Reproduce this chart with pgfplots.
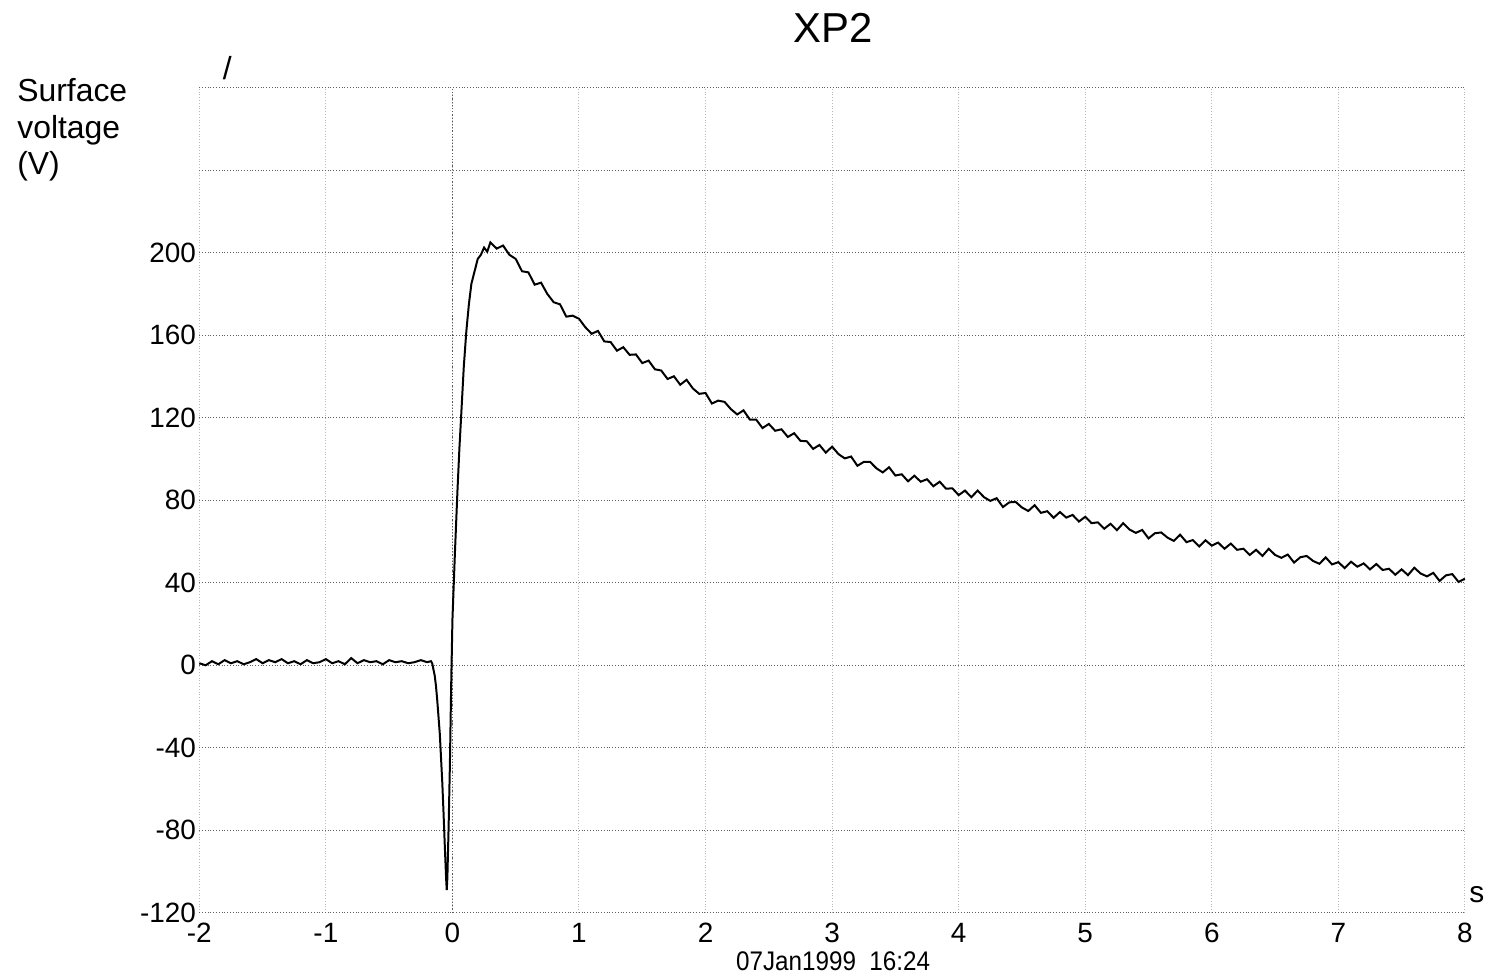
\documentclass[border=0pt]{standalone}
\usepackage{fontspec}
\setmainfont{Liberation Sans}
\newfontfamily\narrowfont[FakeStretch=0.9]{Liberation Sans}
\usepackage{pgfplots}
\pgfplotsset{compat=1.18}

\begin{document}
\begin{tikzpicture}
\begin{axis}[
    scale only axis,
    width=635pt,
    height=414pt,
    xmin=-2, xmax=8,
    ymin=-120, ymax=280,
    xtick={-2,-1,0,1,2,3,4,5,6,7,8},
    xticklabels={-2,-1,0,1,2,3,4,5,6,7,8},
    ytick={-120,-80,-40,0,40,80,120,160,200,240,280},
    yticklabels={-120,-80,-40,0,40,80,120,160,200,,},
    tick label style={font=\fontsize{14}{16}\selectfont},
    yticklabel style={inner sep=1.5pt},
    xticklabel style={inner sep=1pt, yshift=-3.5pt, text height=10pt, text depth=0pt},
    major tick length=0pt,
    axis line style={draw=none},
    grid=major,
    x grid style={gray!55, densely dotted, line width=0.5pt},
    y grid style={gray!75!black, densely dotted, line width=0.5pt},
    clip=false,
]

% darker zero-time marker
\addplot[gray!70!black, densely dotted, line width=0.6pt] coordinates {(0,-120) (0,280)};

% surface voltage trace
\addplot[black, line width=1pt] coordinates {
(-2.00,1.0) (-1.95,0.0) (-1.90,2.0) (-1.85,0.5) (-1.80,2.5) (-1.75,1.0)
(-1.70,2.0) (-1.65,0.5) (-1.60,1.5) (-1.55,3.0) (-1.50,1.0) (-1.45,2.5)
(-1.40,1.5) (-1.35,3.0) (-1.30,1.0) (-1.25,2.0) (-1.20,0.5) (-1.15,2.5)
(-1.10,1.0) (-1.05,1.5) (-1.00,3.0) (-0.95,1.0) (-0.90,2.0) (-0.85,0.5)
(-0.80,3.5) (-0.75,1.0) (-0.70,2.5) (-0.65,1.5) (-0.60,2.0) (-0.55,0.5)
(-0.50,2.5) (-0.45,1.5) (-0.40,2.0) (-0.35,1.0) (-0.30,1.5) (-0.25,2.5)
(-0.20,1.5) (-0.17,2.0)
(-0.16,1.0) (-0.15,-2.0) (-0.14,-5.0) (-0.13,-10.0) (-0.12,-17.0)
(-0.11,-25.0) (-0.10,-33.0) (-0.09,-45.0) (-0.08,-57.0) (-0.07,-72.0)
(-0.06,-88.0) (-0.05,-103.0) (-0.045,-109.0) (-0.04,-103.0) (-0.03,-78.0)
(-0.02,-48.0) (-0.01,-10.0) (0.00,22.0) (0.02,55.0) (0.04,85.0)
(0.055,105.0) (0.07,122.0) (0.09,145.0) (0.11,162.0) (0.13,175.0)
(0.15,185.0) (0.175,191.0) (0.20,197.0) (0.225,199.0) (0.25,202.5)
(0.275,200.5)
(0.30,205.0) (0.35,202.0) (0.40,203.5) (0.45,199.0) (0.50,197.0)
(0.55,191.0) (0.60,190.5) (0.65,184.5) (0.70,185.5) (0.75,180.0)
(0.80,176.0) (0.85,175.0) (0.90,169.0) (0.95,169.5) (1.00,168.0)
(1.05,163.9) (1.10,160.7) (1.15,162.1) (1.20,157.0) (1.25,156.7)
(1.30,152.5) (1.35,154.2) (1.40,150.5) (1.45,150.7) (1.50,146.5)
(1.55,147.7) (1.60,143.5) (1.65,142.9) (1.70,138.8) (1.75,140.1)
(1.80,136.0) (1.85,138.4) (1.90,134.2) (1.95,131.6) (2.00,132.0)
(2.05,126.9) (2.10,128.3) (2.15,127.7) (2.20,124.2) (2.25,121.6)
(2.30,123.6) (2.35,119.1) (2.40,119.1) (2.45,115.0) (2.50,117.0)
(2.55,113.7) (2.60,114.4) (2.65,110.7) (2.70,112.5) (2.75,108.8)
(2.80,108.6) (2.85,104.9) (2.90,106.8) (2.95,103.1) (3.00,106.0)
(3.05,102.4) (3.10,100.3) (3.15,101.2) (3.20,96.7) (3.25,98.6)
(3.30,98.6) (3.35,95.5) (3.40,93.5) (3.45,96.0) (3.50,92.0)
(3.55,92.6) (3.60,89.2) (3.65,91.9) (3.70,89.0) (3.75,90.2)
(3.80,86.8) (3.85,89.0) (3.90,85.6) (3.95,85.8) (4.00,82.5)
(4.05,84.7) (4.10,81.5) (4.15,84.7) (4.20,81.5) (4.25,79.7)
(4.30,81.0) (4.35,76.7) (4.40,79.0) (4.45,79.2) (4.50,76.5)
(4.55,74.8) (4.60,77.6) (4.65,73.9) (4.70,74.7) (4.75,71.5)
(4.80,74.3) (4.85,71.6) (4.90,72.9) (4.95,69.7) (5.00,72.0)
(5.05,68.9) (5.10,69.3) (5.15,66.2) (5.20,68.6) (5.25,65.5)
(5.30,68.9) (5.35,65.8) (5.40,64.2) (5.45,65.6) (5.50,61.5)
(5.55,64.0) (5.60,64.4) (5.65,61.9) (5.70,60.3) (5.75,63.3)
(5.80,59.7) (5.85,60.7) (5.90,57.6) (5.95,60.6) (6.00,58.0)
(6.05,59.5) (6.10,56.5) (6.15,59.0) (6.20,56.0) (6.25,56.5)
(6.30,53.5) (6.35,56.0) (6.40,53.0) (6.45,56.5) (6.50,53.5)
(6.55,52.1) (6.60,53.7) (6.65,49.8) (6.70,52.4) (6.75,53.0)
(6.80,50.6) (6.85,49.2) (6.90,52.3) (6.95,48.9) (7.00,50.0)
(7.05,47.1) (7.10,50.2) (7.15,47.8) (7.20,49.4) (7.25,46.5)
(7.30,49.1) (7.35,46.2) (7.40,46.8) (7.45,43.9) (7.50,46.5)
(7.55,43.7) (7.60,47.3) (7.65,44.5) (7.70,43.1) (7.75,44.8)
(7.80,40.9) (7.85,43.6) (7.90,44.2) (7.95,40.4) (8.00,42.0)
};
\end{axis}

% invisible frame that fixes the page size
\path (-100pt,-32pt) rectangle (645.5pt,458pt);

\node[font=\fontsize{21}{24}\selectfont] at (318pt,444pt) {XP2};
\node[anchor=north west, align=left, inner sep=0pt,
      font=\fontsize{16}{18.5}\selectfont] at (-91.5pt,419pt)
      {Surface\\voltage\\(V)};
\node[font=\fontsize{16}{18}\selectfont] at (14pt,424pt) {/};
\node[font=\fontsize{15}{17}\selectfont] at (641pt,9pt) {s};
\node[anchor=base, inner sep=0pt, text height=10pt, text depth=0pt,
      font=\narrowfont\fontsize{13.5}{16}\selectfont]
      at (318pt,-29pt) {07Jan1999\ \ 16:24};
\end{tikzpicture}
\end{document}
